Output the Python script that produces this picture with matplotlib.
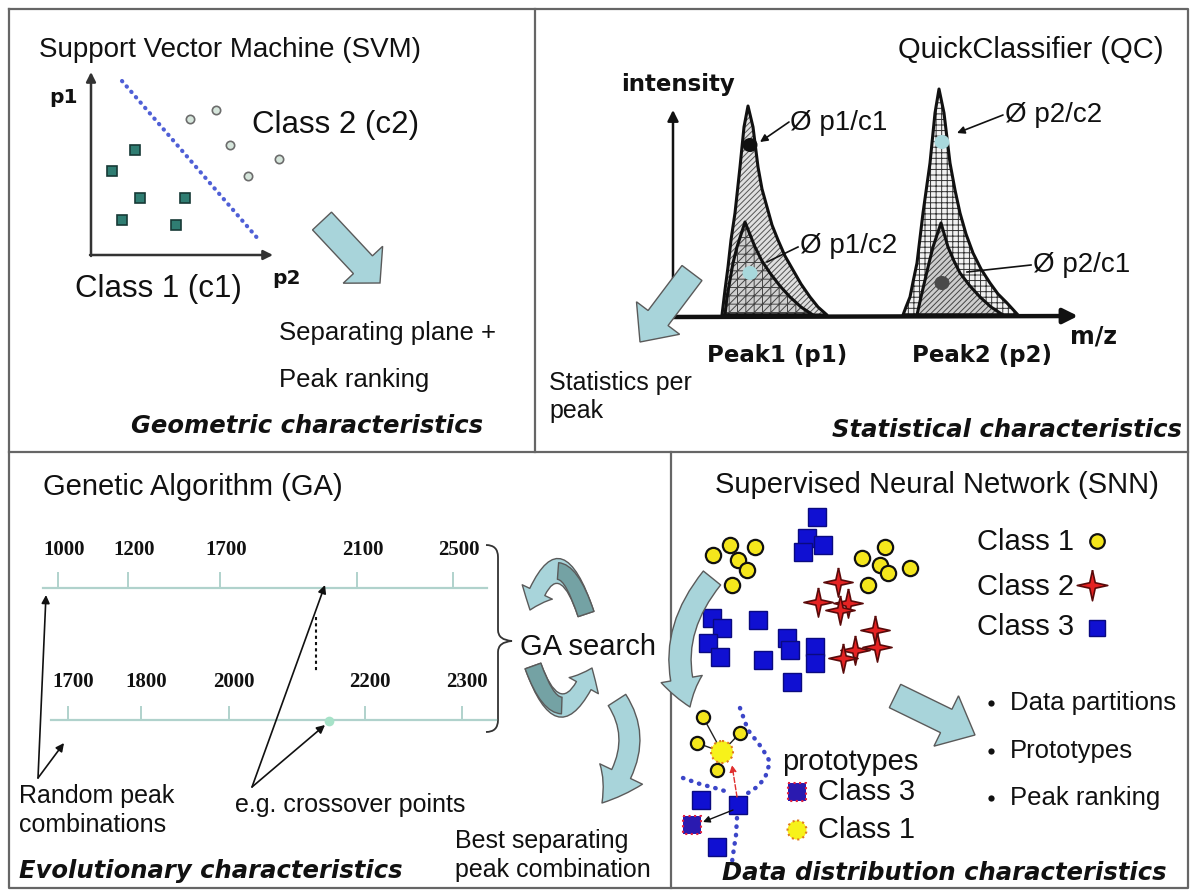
import matplotlib
matplotlib.use("Agg")
import matplotlib.pyplot as plt
from matplotlib.patches import FancyArrow, FancyArrowPatch, Polygon, Circle, Rectangle, Ellipse, PathPatch
from matplotlib.path import Path

# ---------------- data (pixel coordinates) ----------------
# SVM panel
svm_c1_x = [135, 112, 140, 185, 122, 176]
svm_c1_y = [150, 171, 198, 198, 220, 225]
svm_c2_x = [190, 216, 230, 248, 279]
svm_c2_y = [119, 110, 145, 176, 159]
svm_plane_x = [122, 259]
svm_plane_y = [81, 240]

# QC panel: peak outlines
qc_p1_outer_x = [722, 725, 728, 731, 735, 740, 744, 748, 753, 758, 762, 767, 772, 778, 785, 793, 801, 810, 818, 827]
qc_p1_outer_y = [315, 290, 267, 240, 213, 167, 127, 106, 127, 167, 189, 207, 225, 240, 256, 270, 284, 297, 307, 315]
qc_p1_inner_x = [725, 727, 730, 733, 737, 745, 755, 762, 770, 780, 790, 801, 813]
qc_p1_inner_y = [315, 297, 280, 263, 247, 222, 247, 261, 273, 286, 297, 307, 315]
qc_p2_outer_x = [903, 906, 910, 913, 917, 923, 930, 935, 939, 944, 950, 955, 960, 966, 973, 981, 990, 998, 1007, 1018]
qc_p2_outer_y = [315, 307, 297, 282, 263, 213, 163, 113, 89, 113, 163, 190, 213, 234, 253, 269, 283, 294, 303, 315]
qc_p2_inner_x = [917, 921, 925, 929, 933, 941, 948, 954, 960, 970, 980, 991, 1003]
qc_p2_inner_y = [315, 297, 280, 263, 247, 223, 247, 261, 273, 286, 297, 307, 315]
qc_mean_labels = ["Ø p1/c1", "Ø p1/c2", "Ø p2/c2", "Ø p2/c1"]
qc_mean_x = [750, 750, 942, 942]
qc_mean_y = [145, 273, 142, 283]
qc_mean_colors = ["#111111", "#a8d8dc", "#a8d8dc", "#4a4a4a"]

# GA panel
ga_row1_labels = ["1000", "1200", "1700", "2100", "2500"]
ga_row1_x = [58, 128, 220, 357, 453]
ga_row2_labels = ["1700", "1800", "2000", "2200", "2300"]
ga_row2_x = [68, 141, 229, 365, 462]

# SNN panel
snn_c1_x = [713, 730, 755, 738, 747, 732, 862, 885, 880, 888, 910, 868]
snn_c1_y = [555, 545, 547, 560, 570, 585, 558, 547, 565, 573, 568, 585]
snn_c2_x = [838, 818, 848, 840, 875, 855, 877, 843]
snn_c2_y = [582, 602, 603, 610, 630, 650, 647, 658]
snn_c3_x = [817, 807, 823, 803, 712, 722, 758, 708, 720, 763, 787, 790, 815, 815, 792]
snn_c3_y = [517, 538, 545, 552, 618, 628, 620, 643, 657, 660, 638, 650, 647, 663, 682]
snn_proto_c1_x = [703, 697, 740, 717]
snn_proto_c1_y = [717, 743, 733, 770]
snn_proto_c3_x = [701, 738, 717]
snn_proto_c3_y = [800, 805, 847]
snn_bullets = ["Data partitions", "Prototypes", "Peak ranking"]

# ---------------- figure ----------------
W, H = 1192, 890
fig = plt.figure(figsize=(W / 100, H / 100), dpi=100)
fig.patch.set_facecolor("white")
ax = fig.add_axes([0, 0, 1, 1])
ax.set_xlim(0, W)
ax.set_ylim(H, 0)
ax.axis("off")
plt.rcParams["hatch.linewidth"] = 0.7

SANS = ["Liberation Sans", "DejaVu Sans"]
VERD = ["DejaVu Sans"]
SERIF = ["Liberation Serif", "DejaVu Serif"]
LIGHT = "#a8d4da"
DARKT = "#74a2a4"
EDGE = "#5a5a5a"


def txt(x, y, s, size, fam=SANS, ha="left", **kw):
    ax.text(x, y, s, fontsize=size, family=fam, ha=ha, va="baseline", color="#111111", **kw)


def arrow(xy_from, xy_to, lw=1.2, color="#111111", ms=12, style="-|>", ls="-"):
    ax.annotate("", xy=xy_to, xytext=xy_from,
                arrowprops=dict(arrowstyle=style, color=color, lw=lw, mutation_scale=ms,
                                shrinkA=0, shrinkB=0, linestyle=ls))


def bez(p0, c, p2):
    return Path([p0, c, p2], [Path.MOVETO, Path.CURVE3, Path.CURVE3])


def curved(p0, c, p2, tail, hw, hl, fc=LIGHT, tail_fc=None):
    ax.add_patch(FancyArrowPatch(path=bez(p0, c, p2),
                                 arrowstyle=f"simple,head_length={hl},head_width={hw},tail_width={tail}",
                                 mutation_scale=1, fc=fc, ec=EDGE, lw=1.0, zorder=4))
    if tail_fc is not None:
        # first half of the quadratic curve, drawn darker (tail part)
        m = (0.25 * p0[0] + 0.5 * c[0] + 0.25 * p2[0], 0.25 * p0[1] + 0.5 * c[1] + 0.25 * p2[1])
        c1 = (0.5 * (p0[0] + c[0]), 0.5 * (p0[1] + c[1]))
        ax.add_patch(FancyArrowPatch(path=bez(p0, c1, m),
                                     arrowstyle=f"simple,head_length=0.01,head_width={tail},tail_width={tail}",
                                     mutation_scale=1, fc=tail_fc, ec=EDGE, lw=1.0, zorder=5))


# ---------------- borders ----------------
bc = "#666666"
ax.plot([9, 1188, 1188, 9, 9], [9, 9, 888, 888, 9], color=bc, lw=1.6)
ax.plot([9, 1188], [452, 452], color=bc, lw=1.6)
ax.plot([535, 535], [9, 452], color=bc, lw=1.6)
ax.plot([671, 671], [452, 888], color=bc, lw=1.6)

# ---------------- SVM panel ----------------
txt(39, 57, "Support Vector Machine (SVM)", 20)
arrow((91, 256), (91, 72), lw=1.8, color="#333333", ms=14)
arrow((90, 255), (273, 255), lw=1.8, color="#333333", ms=14)
ax.plot(svm_plane_x, svm_plane_y, ls=(0, (0.1, 1.6)), lw=3.0, color="#4f5fd6",
        dash_capstyle="round")
ax.plot(svm_c1_x, svm_c1_y, ls="none", marker="s", ms=7.5, mfc="#2f7d72", mec="#173a36", mew=1.2)
ax.plot(svm_c2_x, svm_c2_y, ls="none", marker="o", ms=6, mfc="#d6e6dc", mec="#6c6c6c", mew=1.2)
txt(49, 103, "p1", 14.5, VERD, fontweight="bold")
txt(272, 284, "p2", 14.5, VERD, fontweight="bold")
txt(252, 133, "Class 2 (c2)", 22.5)
txt(75, 297, "Class 1 (c1)", 22.5)
ax.add_patch(FancyArrow(322, 221, 58, 62, width=26, head_width=54, head_length=25,
                        length_includes_head=True, fc=LIGHT, ec=EDGE, lw=1.0))
txt(279, 340, "Separating plane +", 18.5)
txt(279, 387, "Peak ranking", 18.5)
txt(131, 433, "Geometric characteristics", 17.5, VERD, fontweight="bold", fontstyle="italic")

# ---------------- QC panel ----------------
txt(1163, 58, "QuickClassifier (QC)", 21, ha="right")
txt(621, 91, "intensity", 16.5, VERD, fontweight="bold")
arrow((673, 310), (673, 110), lw=1.8, ms=16)


def peak(xs, ys, fc, hatch, hc):
    pts = list(zip(xs, ys))
    ax.add_patch(Polygon(pts, closed=True, fc=fc, ec=hc, hatch=hatch, lw=0, zorder=2))
    ax.add_patch(Polygon(pts, closed=True, fill=False, ec="#111111", lw=2.2, zorder=3,
                         joinstyle="round"))


peak(qc_p1_outer_x, qc_p1_outer_y, "#e0e0e0", "//////", "#555555")
peak(qc_p1_inner_x, qc_p1_inner_y, "#d0d0d0", "++////", "#444444")
peak(qc_p2_outer_x, qc_p2_outer_y, "#f2f2f2", "+++", "#333333")
peak(qc_p2_inner_x, qc_p2_inner_y, "#cdcdcd", "//////", "#444444")

arrow((673, 317), (1078, 316), lw=3.2, ms=22)

for i in range(4):
    ax.add_patch(Ellipse((qc_mean_x[i], qc_mean_y[i]), 15, 14, fc=qc_mean_colors[i],
                         ec="none", zorder=5))

txt(790, 130, qc_mean_labels[0], 20)
txt(800, 253, qc_mean_labels[1], 20)
txt(1005, 122, qc_mean_labels[2], 20)
txt(1033, 272, qc_mean_labels[3], 20)
arrow((789, 122), (760, 142), lw=1.2, ms=11)
ax.plot([798, 767], [247, 262], color="#111111", lw=1.2, zorder=6)
arrow((1003, 115), (957, 133), lw=1.2, ms=11)
ax.plot([1031, 967], [265, 272], color="#111111", lw=1.2, zorder=6)

ax.add_patch(FancyArrow(692, 273, -52, 69, width=25, head_width=54, head_length=30,
                        length_includes_head=True, fc=LIGHT, ec=EDGE, lw=1.0, zorder=4))
txt(1070, 343, "m/z", 17, VERD, fontweight="bold")
txt(707, 362, "Peak1 (p1)", 16.5, VERD, fontweight="bold")
txt(912, 362, "Peak2 (p2)", 16.5, VERD, fontweight="bold")
txt(549, 390, "Statistics per", 18)
txt(549, 418, "peak", 18)
txt(1182, 437, "Statistical characteristics", 17.5, VERD, ha="right",
    fontweight="bold", fontstyle="italic")

# ---------------- GA panel ----------------
txt(43, 495, "Genetic Algorithm (GA)", 21)
tealine = "#b0d2cc"
ax.plot([43, 487], [588, 588], color=tealine, lw=1.6)
ax.plot([51, 496], [720, 720], color=tealine, lw=1.6)
for i in range(5):
    ax.plot([ga_row1_x[i], ga_row1_x[i]], [573, 588], color=tealine, lw=1.4)
    ax.plot([ga_row2_x[i], ga_row2_x[i]], [707, 720], color=tealine, lw=1.4)
    ax.text(ga_row1_x[i] + 6, 555, ga_row1_labels[i], fontsize=15, family=SERIF,
            fontweight="bold", ha="center", va="baseline", color="#111111")
    ax.text(ga_row2_x[i] + 5, 687, ga_row2_labels[i], fontsize=15, family=SERIF,
            fontweight="bold", ha="center", va="baseline", color="#111111")
ax.plot([329], [721], ls="none", marker="o", ms=7, mfc="#a6e2c8", mec="none")

# brace
brace = Path([(486, 545), (498, 545), (498, 557), (498, 630), (498, 640), (512, 641),
              (498, 642), (498, 652), (498, 720), (498, 732), (486, 732)],
             [Path.MOVETO, Path.CURVE3, Path.CURVE3, Path.LINETO, Path.CURVE3, Path.CURVE3,
              Path.CURVE3, Path.CURVE3, Path.LINETO, Path.CURVE3, Path.CURVE3])
ax.add_patch(PathPatch(brace, fill=False, ec="#333333", lw=1.3))

arrow((38, 778), (46, 595))
arrow((38, 778), (64, 743))
arrow((252, 787), (325, 585))
arrow((252, 787), (325, 725))
ax.plot([316, 316], [617, 673], color="#111111", lw=1.5, ls=(0, (1.5, 1.5)))

txt(520, 655, "GA search", 21)
curved((586, 614), (558, 530), (530, 610), 12, 24, 14, fc=LIGHT, tail_fc=DARKT)
curved((533, 666), (561, 744), (592, 668), 12, 24, 14, fc=LIGHT, tail_fc=DARKT)
curved((617, 700), (648, 748), (602, 803), 15, 34, 25, fc=LIGHT)

txt(19, 803, "Random peak", 18)
txt(19, 832, "combinations", 18)
txt(235, 812, "e.g. crossover points", 18)
txt(455, 848, "Best separating", 18)
txt(455, 877, "peak combination", 18)
txt(19, 878, "Evolutionary characteristics", 17.5, VERD, fontweight="bold", fontstyle="italic")

# ---------------- SNN panel ----------------
txt(715, 493, "Supervised Neural Network (SNN)", 21)
star = [(0, 1), (0.18, 0.18), (1, 0), (0.18, -0.18), (0, -1), (-0.18, -0.18), (-1, 0),
        (-0.18, 0.18), (0, 1)]
ax.plot(snn_c3_x, snn_c3_y, ls="none", marker="s", ms=12.5, mfc="#1010d2", mec="#0a0a80", mew=1)
ax.plot(snn_c1_x, snn_c1_y, ls="none", marker="o", ms=11, mfc="#f4e61c", mec="#111111", mew=1.6)
ax.plot(snn_c2_x, snn_c2_y, ls="none", marker=star, ms=21, mfc="#e52222", mec="#5a0a0a", mew=1.2)

txt(977, 550, "Class 1", 21)
txt(977, 595, "Class 2", 21)
txt(977, 635, "Class 3", 21)
ax.plot([1097], [541], ls="none", marker="o", ms=10.5, mfc="#f4e61c", mec="#111111", mew=1.6)
ax.plot([1092], [585], ls="none", marker=star, ms=22, mfc="#e52222", mec="#5a0a0a", mew=1.2)
ax.plot([1097], [628], ls="none", marker="s", ms=12, mfc="#1010d2", mec="#0a0a80", mew=1)

curved((712, 578), (662, 640), (690, 707), 16, 30, 21, fc=LIGHT)
ax.add_patch(FancyArrow(895, 696, 80, 39, width=26, head_width=56, head_length=32,
                        length_includes_head=True, fc=LIGHT, ec=EDGE, lw=1.0))

for i, s in enumerate(snn_bullets):
    yb = [710, 758, 805][i]
    ax.plot([991], [yb - 7], ls="none", marker="o", ms=4.5, mfc="#111111", mec="none")
    txt(1010, yb, s, 18.5)

# prototypes region
for i in range(4):
    ax.plot([722, snn_proto_c1_x[i]], [752, snn_proto_c1_y[i]], color="#222222", lw=1)
ax.plot(snn_proto_c1_x, snn_proto_c1_y, ls="none", marker="o", ms=9.5, mfc="#f4e61c",
        mec="#111111", mew=1.6)
ax.add_patch(Circle((722, 752), 11, fc="#f7f21a", ec="#e07a20", lw=1.5, ls=":", zorder=5))
dot = dict(ls=(0, (0.1, 1.8)), lw=3.2, color="#3c46c8", dash_capstyle="round")
ax.plot([740, 748, 762, 770, 765, 757, 745], [708, 730, 748, 762, 778, 787, 795], **dot)
ax.plot([683, 700, 715, 728], [778, 784, 788, 792], **dot)
ax.plot([737, 736, 734, 732], [818, 835, 848, 862], **dot)
ax.plot(snn_proto_c3_x, snn_proto_c3_y, ls="none", marker="s", ms=13, mfc="#1010d2",
        mec="#0a0a80", mew=1)
ax.add_patch(Rectangle((683, 816), 18, 18, fc="#2a1ab0", ec="#e02040", lw=1.5, ls=":", zorder=5))
arrow((737, 797), (732, 765), lw=1.0, color="#e03030", ms=10, ls="--")
arrow((733, 810), (703, 822), lw=1.0, ms=10)

txt(782, 770, "prototypes", 21)
ax.add_patch(Rectangle((788, 783), 18, 18, fc="#2a1ab0", ec="#e02040", lw=1.5, ls=":"))
ax.add_patch(Circle((797, 830), 9.5, fc="#f7f21a", ec="#e07a20", lw=1.5, ls=":"))
txt(818, 800, "Class 3", 21)
txt(818, 838, "Class 1", 21)
txt(722, 880, "Data distribution characteristics", 17.5, VERD, fontweight="bold",
    fontstyle="italic")

fig.savefig("out.png", dpi=100, facecolor="white")
